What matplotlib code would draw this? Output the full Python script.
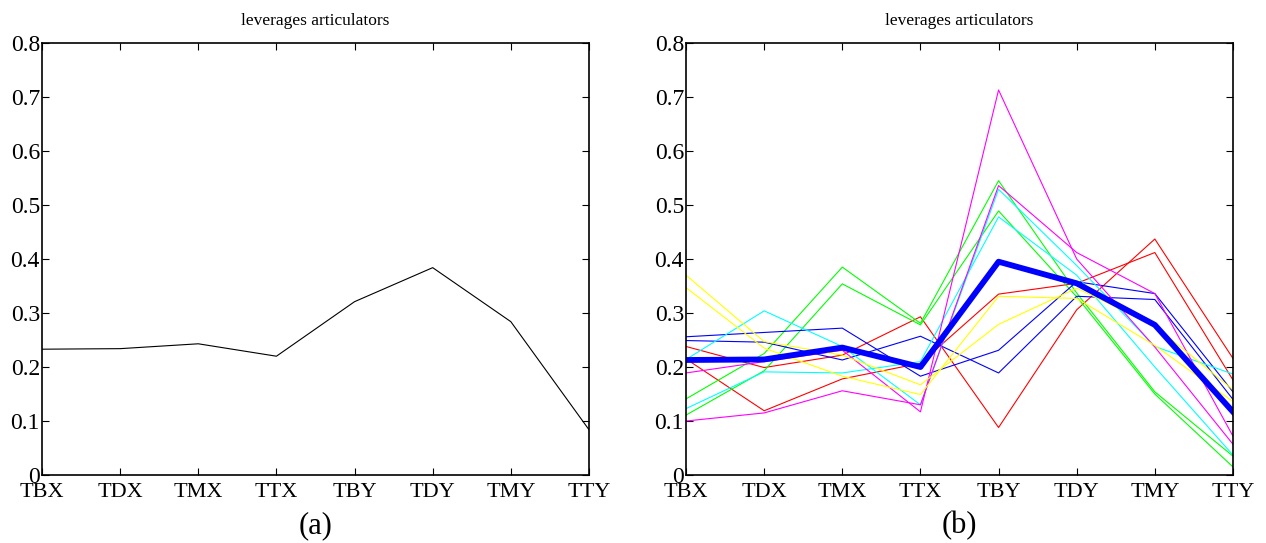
import matplotlib
matplotlib.use("Agg")
import matplotlib.pyplot as plt

# Data
labels = ['TBX', 'TDX', 'TMX', 'TTX', 'TBY', 'TDY', 'TMY', 'TTY']
title = 'leverages articulators'

# panel (a): single speaker
lev_a = [0.233, 0.234, 0.243, 0.220, 0.321, 0.384, 0.284, 0.084]

# panel (b): individual speakers (two per colour) and their mean
red_1 = [0.238, 0.199, 0.222, 0.293, 0.088, 0.306, 0.437, 0.216]
red_2 = [0.215, 0.119, 0.178, 0.207, 0.335, 0.355, 0.412, 0.176]
green_1 = [0.141, 0.225, 0.385, 0.281, 0.545, 0.337, 0.154, 0.035]
green_2 = [0.111, 0.193, 0.354, 0.278, 0.489, 0.330, 0.150, 0.015]
blue_1 = [0.256, 0.264, 0.272, 0.183, 0.231, 0.358, 0.336, 0.154]
blue_2 = [0.249, 0.246, 0.213, 0.257, 0.189, 0.331, 0.325, 0.140]
cyan_1 = [0.214, 0.304, 0.238, 0.130, 0.529, 0.388, 0.238, 0.187]
cyan_2 = [0.123, 0.191, 0.189, 0.210, 0.478, 0.370, 0.200, 0.037]
magenta_1 = [0.189, 0.210, 0.231, 0.117, 0.713, 0.400, 0.237, 0.057]
magenta_2 = [0.100, 0.115, 0.156, 0.130, 0.536, 0.412, 0.336, 0.072]
yellow_1 = [0.370, 0.247, 0.222, 0.167, 0.279, 0.346, 0.276, 0.158]
yellow_2 = [0.347, 0.235, 0.183, 0.149, 0.331, 0.327, 0.240, 0.136]
mean_b = [0.213, 0.214, 0.236, 0.200, 0.395, 0.355, 0.278, 0.117]

speakers = [
    (red_1, '#ff0000'), (red_2, '#ff0000'),
    (green_1, '#00ff00'), (green_2, '#00ff00'),
    (blue_1, '#0000ff'), (blue_2, '#0000ff'),
    (cyan_1, '#00ffff'), (cyan_2, '#00ffff'),
    (magenta_1, '#ff00ff'), (magenta_2, '#ff00ff'),
    (yellow_1, '#ffff00'), (yellow_2, '#ffff00'),
]

plt.rcParams['font.family'] = ['Liberation Serif', 'DejaVu Serif']

fig = plt.figure(figsize=(12.66, 5.43), dpi=100)
ax_a = fig.add_axes([0.0332, 0.1252, 0.432, 0.7956])
ax_b = fig.add_axes([0.5419, 0.1252, 0.432, 0.7956])

x = range(len(labels))

ax_a.plot(x, lev_a, color='black', linewidth=0.8)

for vals, col in speakers:
    ax_b.plot(x, vals, color=col, linewidth=0.8)
ax_b.plot(x, mean_b, color='#0000ff', linewidth=4.2)


def style(ax, tag):
    ax.set_xlim(0, len(labels) - 1)
    ax.set_ylim(0, 0.8)
    ax.set_xticks(list(x))
    ax.set_xticklabels(labels)
    ax.set_yticks([0, 0.1, 0.2, 0.3, 0.4, 0.5, 0.6, 0.7, 0.8])
    ax.set_yticklabels(['0', '0.1', '0.2', '0.3', '0.4', '0.5', '0.6', '0.7', '0.8'])
    ax.tick_params(direction='in', length=5, width=0.8, top=True, right=True,
                   colors='black')
    ax.tick_params(axis='x', pad=6, labelsize=16)
    ax.tick_params(axis='y', pad=1.5, labelsize=17)
    for sp in ax.spines.values():
        sp.set_linewidth(1.2)
    ax.set_title(title, fontsize=12.5, pad=13)
    ax.text(0.5, -0.118, tag, transform=ax.transAxes, ha='center', va='center',
            fontsize=22)


style(ax_a, '(a)')
style(ax_b, '(b)')

fig.savefig('out.png', dpi=100)
